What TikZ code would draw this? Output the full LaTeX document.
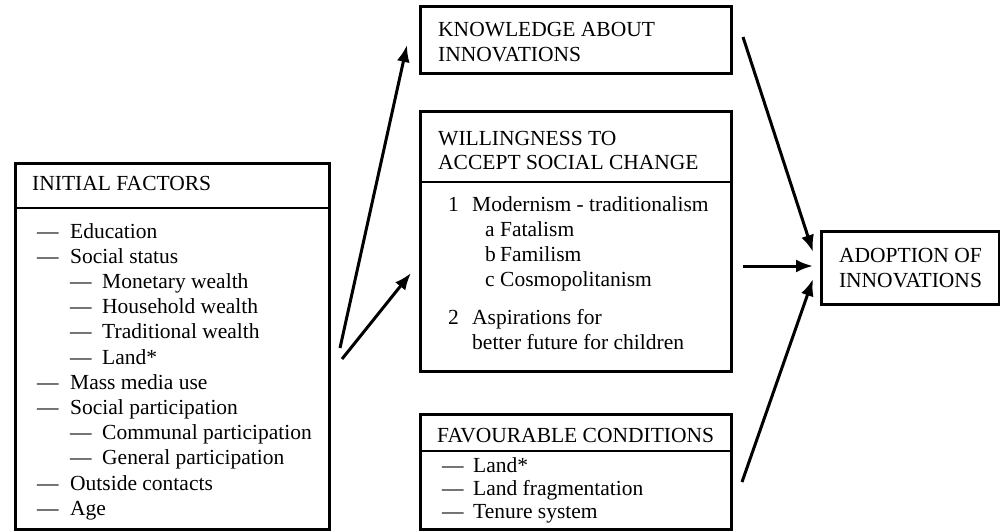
\documentclass[tikz,border=0pt]{standalone}
\usepackage{fontspec}
\setmainfont{Liberation Serif}
\usetikzlibrary{arrows.meta}

% list entries: a dash or a numeral set in a fixed-width slot, then the text
\newcommand\dashitem[2][33pt]{\makebox[#1][l]{---}#2}
\newcommand\numitem[3]{\makebox[#1][l]{#2}#3}

\begin{document}
\begin{tikzpicture}[x=1pt,y=-1pt,
  box/.style={draw, line width=3pt, rectangle, inner sep=0pt, anchor=north west},
  rule/.style={line width=2.4pt},
  txt/.style={anchor=base west, inner sep=0pt, font=\fontsize{21.5}{25}\selectfont},
  ctr/.style={align=center, inner sep=0pt, font=\fontsize{21.5}{25}\selectfont},
  conn/.style={line width=3pt, -{Latex[length=17pt,width=13pt]}}]

\useasboundingbox (0,0) rectangle (1000,532);

% ---------- boxes ----------
\node[box, minimum width=314pt, minimum height=366pt] (initial) at (14,162) {};
\node[box, minimum width=311pt, minimum height=67pt]  (know)    at (419,5) {};
\node[box, minimum width=311pt, minimum height=260pt] (will)    at (419,110) {};
\node[box, minimum width=311pt, minimum height=115pt] (fav)     at (419,413) {};
\node[box, minimum width=178pt, minimum height=73pt]  (adopt)   at (820,230) {};

% header rules
\draw[rule] ([yshift=-46pt]initial.north west) -- ([yshift=-46pt]initial.north east);
\draw[rule] ([yshift=-72pt]will.north west) -- ([yshift=-72pt]will.north east);
\draw[rule] ([yshift=-38pt]fav.north west) -- ([yshift=-38pt]fav.north east);

% ---------- initial factors ----------
\node[txt] (iT)  at (32,190)    {INITIAL FACTORS};
\node[txt] (i1)  at (37,238)    {\dashitem{Education}};
\node[txt] (i2)  at (37,263.2)  {\dashitem{Social status}};
\node[txt] (i3)  at (70,288.4)  {\dashitem[32pt]{Monetary wealth}};
\node[txt] (i4)  at (70,313.6)  {\dashitem[32pt]{Household wealth}};
\node[txt] (i5)  at (70,338.8)  {\dashitem[32pt]{Traditional wealth}};
\node[txt] (i6)  at (70,364)    {\dashitem[32pt]{Land*}};
\node[txt] (i7)  at (37,389.2)  {\dashitem{Mass media use}};
\node[txt] (i8)  at (37,414.4)  {\dashitem{Social participation}};
\node[txt] (i9)  at (70,439.6)  {\dashitem[32pt]{Communal participation}};
\node[txt] (i10) at (70,464.8)  {\dashitem[32pt]{General participation}};
\node[txt] (i11) at (37,490)    {\dashitem{Outside contacts}};
\node[txt] (i12) at (37,515.2)  {\dashitem{Age}};

% ---------- knowledge ----------
\node[txt] (k1) at (438,37) {KNOWLEDGE ABOUT};
\node[txt] (k2) at (438,62) {INNOVATIONS};

% ---------- willingness ----------
\node[txt] (w1) at (438,145) {WILLINGNESS TO};
\node[txt] (w2) at (438,169) {ACCEPT SOCIAL CHANGE};
\node[txt] (w3) at (448,211) {\numitem{24pt}{1}{Modernism - traditionalism}};
\node[txt] (w4) at (485,236) {\numitem{15pt}{a}{Fatalism}};
\node[txt] (w5) at (485,261) {\numitem{15pt}{b}{Familism}};
\node[txt] (w6) at (485,286) {\numitem{15pt}{c}{Cosmopolitanism}};
\node[txt] (w7) at (448,324) {\numitem{24pt}{2}{Aspirations for}};
\node[txt] (w8) at (472,349) {better future for children};

% ---------- favourable conditions ----------
\node[txt] (f1) at (437,442) {FAVOURABLE CONDITIONS};
\node[txt] (f2) at (442,472) {\dashitem[31pt]{Land*}};
\node[txt] (f3) at (442,495) {\dashitem[31pt]{Land fragmentation}};
\node[txt] (f4) at (442,518) {\dashitem[31pt]{Tenure system}};

% ---------- adoption ----------
\node[ctr] (a1) at (adopt.center) {ADOPTION OF\\INNOVATIONS};

% ---------- arrow ends ----------
\coordinate (iA)  at (342,359);
\coordinate (iB)  at (340,348);
\coordinate (wIn) at (411,273);
\coordinate (kIn) at (407,45);
\coordinate (kOut) at (743,37);
\coordinate (wOut) at (743,266);
\coordinate (fOut) at (742,482);
\coordinate (aIn1) at (813,252);
\coordinate (aIn2) at (813,266);
\coordinate (aIn3) at (813,279);

\draw[conn] (iA) -- (wIn);
\draw[conn] (iB) -- (kIn);
\draw[conn] (kOut) -- (aIn1);
\draw[conn] (wOut) -- (aIn2);
\draw[conn] (fOut) -- (aIn3);
\end{tikzpicture}
\end{document}
